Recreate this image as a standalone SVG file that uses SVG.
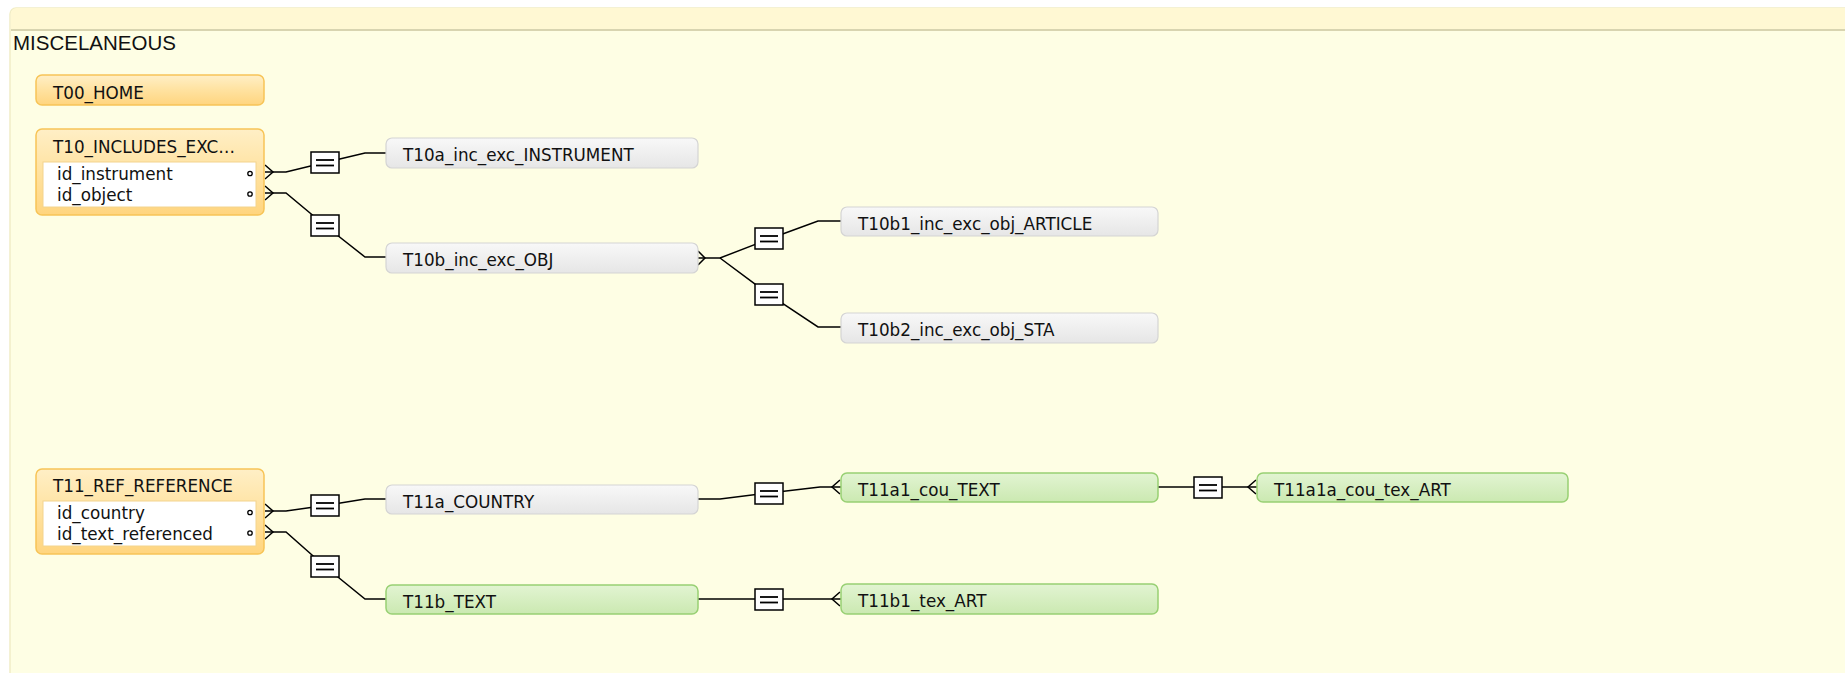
<svg xmlns="http://www.w3.org/2000/svg" xmlns:xlink="http://www.w3.org/1999/xlink" width="1845" height="673" viewBox="0 0 1845 673">
<style>
.lbl{font-family:"DejaVu Sans","Liberation Sans",sans-serif;font-size:16.8px;fill:#111}
.title{font-family:"Liberation Sans",Arial,sans-serif;font-size:20.5px;fill:#111}
.org{fill:url(#gOrg);stroke:#f7c457;stroke-width:1.5}
.gry{fill:url(#gGry);stroke:#d4d4d4;stroke-width:1.2}
.grn{fill:url(#gGrn);stroke:#98d073;stroke-width:1.5}
.inner{fill:#fff;stroke:#f3d48e;stroke-width:1}
.ln{fill:none;stroke:#000;stroke-width:1.5}
.dot{fill:#fff;stroke:#000;stroke-width:1.3}
</style>
<defs>
<linearGradient id="gOrg" x1="0" y1="0" x2="0" y2="1">
<stop offset="0" stop-color="#ffefc6"/><stop offset="0.5" stop-color="#ffe2a0"/><stop offset="1" stop-color="#ffd57f"/>
</linearGradient>
<linearGradient id="gGry" x1="0" y1="0" x2="0" y2="1">
<stop offset="0" stop-color="#f8f8f8"/><stop offset="1" stop-color="#e6e6e6"/>
</linearGradient>
<linearGradient id="gGrn" x1="0" y1="0" x2="0" y2="1">
<stop offset="0" stop-color="#e2f4d2"/><stop offset="1" stop-color="#cbe9b1"/>
</linearGradient>
<g id="eq">
<rect x="0" y="0" width="28" height="21" fill="#fff" stroke="#000" stroke-width="1.5"/>
<line x1="5" y1="8" x2="23" y2="8" stroke="#000" stroke-width="1.8"/>
<line x1="5" y1="13.5" x2="23" y2="13.5" stroke="#000" stroke-width="1.8"/>
</g>
</defs>

<rect x="0" y="0" width="1845" height="673" fill="#fff"/>
<g id="container">
<rect x="10" y="8" width="1860" height="700" rx="6" fill="#fefee4" stroke="#f1edc6" stroke-width="1.5"/>
<path d="M10.75 29 V14 a6 6 0 0 1 6 -6 H1845 V29 Z" fill="#fff8d3"/>
<line x1="11" y1="30" x2="1845" y2="30" stroke="#d8d4b0" stroke-width="2"/>
<text class="title" x="13" y="50">MISCELANEOUS</text>
</g>

<g id="connectors">
<path class="ln" d="M265 172 H286 L325 162.5 L365 153 H386"/>
<path class="ln" d="M265 165 L273 172 L265 179"/>
<path class="ln" d="M265 193 H286 L325 225.5 L365 257 H386"/>
<path class="ln" d="M265 186 L273 193 L265 200"/>
<path class="ln" d="M698 258 H720 L769 239 L818 221 H841"/>
<path class="ln" d="M720 258 L769 294.5 L818 327 H841"/>
<path class="ln" d="M698 251 L705 258 L698 265"/>
<path class="ln" d="M265 511 H286 L325 505.5 L365 499 H386"/>
<path class="ln" d="M265 504 L273 511 L265 518"/>
<path class="ln" d="M265 532 H286 L325 566.5 L365 599 H386"/>
<path class="ln" d="M265 525 L273 532 L265 539"/>
<path class="ln" d="M698 499 H720 L769 493 L820 487 H841"/>
<path class="ln" d="M840 480 L832 487 L840 494"/>
<path class="ln" d="M698 599 H841"/>
<path class="ln" d="M840 592 L832 599 L840 606"/>
<path class="ln" d="M1158 487 H1257"/>
<path class="ln" d="M1256 480 L1248 487 L1256 494"/>
<use xlink:href="#eq" x="311" y="152"/>
<use xlink:href="#eq" x="311" y="215"/>
<use xlink:href="#eq" x="755" y="228"/>
<use xlink:href="#eq" x="755" y="284"/>
<use xlink:href="#eq" x="311" y="495"/>
<use xlink:href="#eq" x="311" y="556"/>
<use xlink:href="#eq" x="755" y="483"/>
<use xlink:href="#eq" x="755" y="589"/>
<use xlink:href="#eq" x="1194" y="477"/>
</g>

<g id="T00_HOME">
<rect class="org" x="36" y="75" width="228" height="30" rx="6"/>
<text class="lbl" x="53" y="98.5">T00_HOME</text>
</g>

<g id="T10_INCLUDES_EXC">
<rect class="org" x="36" y="129" width="228" height="86" rx="6"/>
<text class="lbl" x="53" y="153">T10_INCLUDES_EXC…</text>
<rect class="inner" x="43" y="162" width="213" height="45"/>
<text class="lbl" x="57" y="180">id_instrument</text>
<text class="lbl" x="57" y="200.5">id_object</text>
<circle class="dot" cx="250" cy="173.5" r="2.2"/>
<circle class="dot" cx="250" cy="194" r="2.2"/>
</g>

<g id="T10a_inc_exc_INSTRUMENT">
<rect class="gry" x="386" y="138" width="312" height="30" rx="6"/>
<text class="lbl" x="403" y="161">T10a_inc_exc_INSTRUMENT</text>
</g>

<g id="T10b_inc_exc_OBJ">
<rect class="gry" x="386" y="243" width="312" height="30" rx="6"/>
<text class="lbl" x="403" y="266">T10b_inc_exc_OBJ</text>
</g>

<g id="T10b1_inc_exc_obj_ARTICLE">
<rect class="gry" x="841" y="207" width="317" height="29" rx="6"/>
<text class="lbl" x="858" y="230">T10b1_inc_exc_obj_ARTICLE</text>
</g>

<g id="T10b2_inc_exc_obj_STA">
<rect class="gry" x="841" y="313" width="317" height="30" rx="6"/>
<text class="lbl" x="858" y="336">T10b2_inc_exc_obj_STA</text>
</g>

<g id="T11_REF_REFERENCE">
<rect class="org" x="36" y="469" width="228" height="85" rx="6"/>
<text class="lbl" x="53" y="492">T11_REF_REFERENCE</text>
<rect class="inner" x="43" y="501" width="213" height="45"/>
<text class="lbl" x="57" y="519">id_country</text>
<text class="lbl" x="57" y="540">id_text_referenced</text>
<circle class="dot" cx="250" cy="512.5" r="2.2"/>
<circle class="dot" cx="250" cy="533" r="2.2"/>
</g>

<g id="T11a_COUNTRY">
<rect class="gry" x="386" y="485" width="312" height="29" rx="6"/>
<text class="lbl" x="403" y="508">T11a_COUNTRY</text>
</g>

<g id="T11b_TEXT">
<rect class="grn" x="386" y="585" width="312" height="29" rx="6"/>
<text class="lbl" x="403" y="608">T11b_TEXT</text>
</g>

<g id="T11a1_cou_TEXT">
<rect class="grn" x="841" y="473" width="317" height="29" rx="6"/>
<text class="lbl" x="858" y="496">T11a1_cou_TEXT</text>
</g>

<g id="T11b1_tex_ART">
<rect class="grn" x="841" y="584" width="317" height="30" rx="6"/>
<text class="lbl" x="858" y="607">T11b1_tex_ART</text>
</g>

<g id="T11a1a_cou_tex_ART">
<rect class="grn" x="1257" y="473" width="311" height="29" rx="6"/>
<text class="lbl" x="1274" y="496">T11a1a_cou_tex_ART</text>
</g>
</svg>
